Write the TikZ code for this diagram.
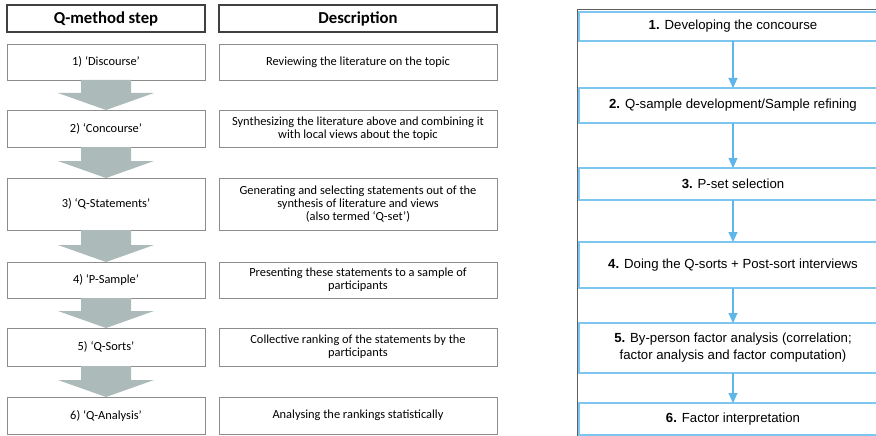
\documentclass[tikz,border=0pt]{standalone}
\usepackage{fontspec}
\setmainfont{Carlito}
\newfontfamily\arialFont{Liberation Sans}
\usetikzlibrary{calc,arrows.meta}
\definecolor{headGray}{RGB}{64,64,64}
\definecolor{boxGray}{RGB}{140,140,140}
\definecolor{arrowGray}{RGB}{172,187,185}
\definecolor{flowBlue}{RGB}{125,198,240}
\definecolor{flowArrowBlue}{RGB}{95,182,234}
\definecolor{frameGray}{RGB}{95,95,95}
\newcommand{\fatArrow}[2]{%
  \fill[arrowGray] ($(#1.south)+(-25,0)$) -- ($(#2.north)+(-25,-17)$)
    -- ($(#2.north)+(-48,-17)$) -- (#2.north) -- ($(#2.north)+(48,-17)$)
    -- ($(#2.north)+(25,-17)$) -- ($(#1.south)+(25,0)$) -- cycle;
}

\begin{document}
\begin{tikzpicture}[x=1pt,y=-1pt,%
  headStyle/.style={draw=headGray,line width=1.1pt,fill=white,inner sep=0pt,outer sep=0pt,
    font=\bfseries\fontsize{16.7}{19}\selectfont},%
  stepStyle/.style={draw=boxGray,line width=0.7pt,fill=white,inner sep=0pt,outer sep=0pt,
    minimum width=198pt,align=center,font=\fontsize{12.4}{13}\selectfont},%
  descStyle/.style={stepStyle,minimum width=278pt},%
  flowStyle/.style={draw=flowBlue,line width=1.6pt,fill=white,inner sep=0pt,outer sep=0pt,
    minimum width=308pt,align=center,font=\arialFont\fontsize{13.2}{17}\selectfont},%
  flowArrow/.style={draw=flowArrowBlue,line width=1.1pt,-{Triangle[width=9pt,length=10pt]}}%
]
\useasboundingbox (0,0) rectangle (876,436);
\clip (0,0) rectangle (876,436);
%
% Left panel: the Q-method steps.
\node[headStyle,minimum width=198pt,minimum height=27pt] (stepHead) at (106,18.5) {Q-method step};
\node[headStyle,minimum width=278pt,minimum height=27pt] (descHead) at (358,18.5) {Description};
%
\node[stepStyle,minimum height=36pt] (s1) at (106,62) {1) ‘Discourse’};
\node[stepStyle,minimum height=37pt] (s2) at (106,128.5) {2) ‘Concourse’};
\node[stepStyle,minimum height=52pt] (s3) at (106,204) {3) ‘Q-Statements’};
\node[stepStyle,minimum height=36pt] (s4) at (106,280) {4) ‘P-Sample’};
\node[stepStyle,minimum height=38pt] (s5) at (106,347) {5) ‘Q-Sorts’};
\node[stepStyle,minimum height=37pt] (s6) at (106,415.5) {6) ‘Q-Analysis’};
%
\node[descStyle,minimum height=36pt] (d1) at (358,62) {Reviewing the literature on the topic};
\node[descStyle,minimum height=37pt] (d2) at (358,128.5)
  {Synthesizing the literature above and combining it\\with local views about the topic};
\node[descStyle,minimum height=52pt] (d3) at (358,204)
  {Generating and selecting statements out of the\\synthesis of literature and views\\(also termed ‘Q-set’)};
\node[descStyle,minimum height=36pt] (d4) at (358,280)
  {Presenting these statements to a sample of\\participants};
\node[descStyle,minimum height=38pt] (d5) at (358,347)
  {Collective ranking of the statements by the\\participants};
\node[descStyle,minimum height=37pt] (d6) at (358,415.5) {Analysing the rankings statistically};
%
% The wide grey arrows between the steps.
\fatArrow{s1}{s2}
\fatArrow{s2}{s3}
\fatArrow{s3}{s4}
\fatArrow{s4}{s5}
\fatArrow{s5}{s6}
%
% Right panel: the frame and the flow chart.
\draw[frameGray,line width=0.8pt] (577,440) |- (880,9);
%
\node[flowStyle,minimum height=29pt] (f1) at (733,26.5) {\textbf{1.} Developing the concourse};
\node[flowStyle,minimum height=35pt] (f2) at (733,105.5) {\textbf{2.} Q-sample development/Sample refining};
\node[flowStyle,minimum height=32pt] (f3) at (733,184) {\textbf{3.} P-set selection};
\node[flowStyle,minimum height=46pt] (f4) at (733,265) {\textbf{4.} Doing the Q-sorts + Post-sort interviews};
\node[flowStyle,minimum height=50pt] (f5) at (733,348)
  {\textbf{5.} By-person factor analysis (correlation;\\factor analysis and factor computation)};
\node[flowStyle,minimum height=32pt] (f6) at (733,419) {\textbf{6.} Factor interpretation};
%
\draw[flowArrow] (f1) -- (f2);
\draw[flowArrow] (f2) -- (f3);
\draw[flowArrow] (f3) -- (f4);
\draw[flowArrow] (f4) -- (f5);
\draw[flowArrow] (f5) -- (f6);
\end{tikzpicture}
\end{document}
